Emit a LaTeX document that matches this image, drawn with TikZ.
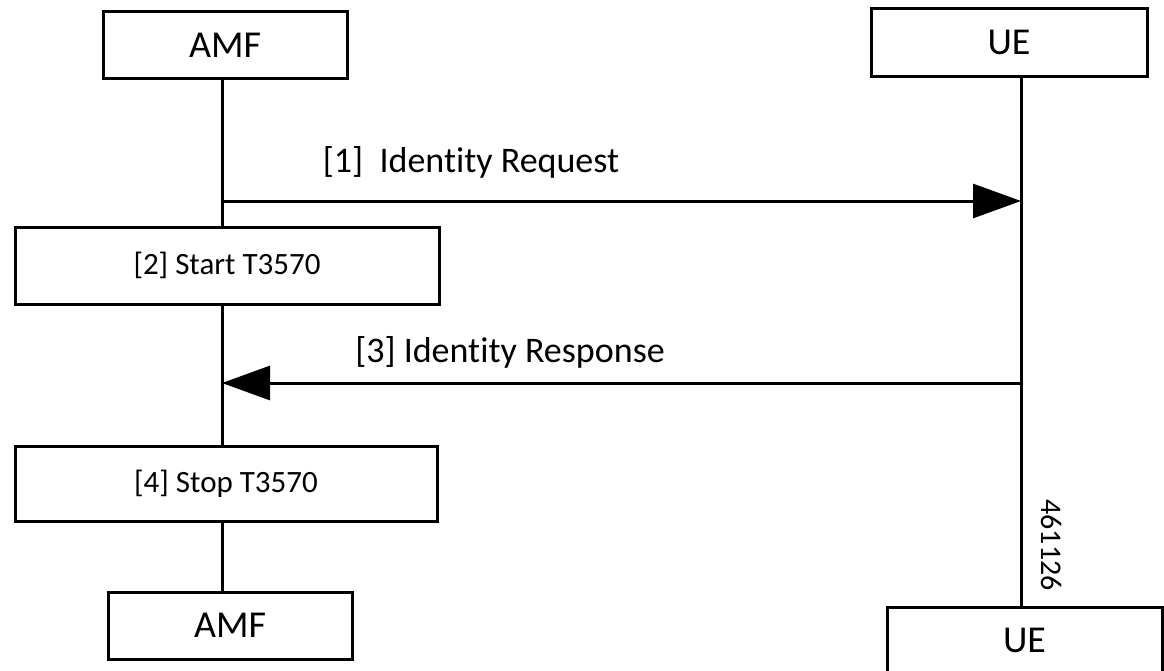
\documentclass[tikz,border=0pt]{standalone}
\usepackage{fontspec}
\setmainfont{Carlito}[Ligatures=NoCommon]
\usetikzlibrary{arrows.meta}
\tikzset{
  x=1pt, y=-1pt,
  actor/.style={draw, line width=3pt, fill=white, inner sep=0pt, font=\fontsize{38}{45}\selectfont},
  stepbox/.style={draw, line width=3pt, fill=white, inner sep=0pt, font=\fontsize{31}{37}\selectfont},
  life/.style={line width=3pt},
  msg/.style={line width=3pt, -{Triangle[length=48pt,width=34pt]}},
  lbl/.style={font=\fontsize{36}{43}\selectfont, inner sep=0pt}
}
\begin{document}
\begin{tikzpicture}
\useasboundingbox (0,0) rectangle (1164,670);
\coordinate (amfx) at (222,0);
\coordinate (uex) at (1021,0);
\node[actor, minimum width=244pt, minimum height=67pt] (amf1) at (225,45) {AMF};
\node[actor, minimum width=276pt, minimum height=68pt] (ue1) at (1009,42) {UE};
\node[stepbox, minimum width=424pt, minimum height=77pt] (s2) at (227,265.5) {[2] Start T3570};
\node[stepbox, minimum width=422pt, minimum height=75pt] (s4) at (226,483.5) {[4] Stop T3570};
\node[actor, minimum width=244pt, minimum height=67pt] (amf2) at (230,625.5) {AMF};
\node[actor, minimum width=275pt, minimum height=66pt] (ue2) at (1024.5,640) {UE};
\draw[life] (amfx |- amf1.south) -- (amfx |- s2.north);
\draw[life] (amfx |- s2.south) -- (amfx |- s4.north);
\draw[life] (amfx |- s4.south) -- (amfx |- amf2.north);
\draw[life] (uex |- ue1.south) -- (uex |- ue2.north);
\coordinate (m1a) at (222,201);
\coordinate (m1b) at (1021,201);
\coordinate (m3a) at (1021,383);
\coordinate (m3b) at (222,383);
\draw[msg] (m1a) -- (m1b);
\draw[msg] (m3a) -- (m3b);
\node[lbl] (l1) at (471,162) {[1]\ \ Identity Request};
\node[lbl] (l3) at (510,352) {[3] Identity Response};
\node[rotate=-90, inner sep=0pt, font=\fontsize{30}{36}\selectfont] (fig) at (1052,545) {461126};
\end{tikzpicture}
\end{document}
